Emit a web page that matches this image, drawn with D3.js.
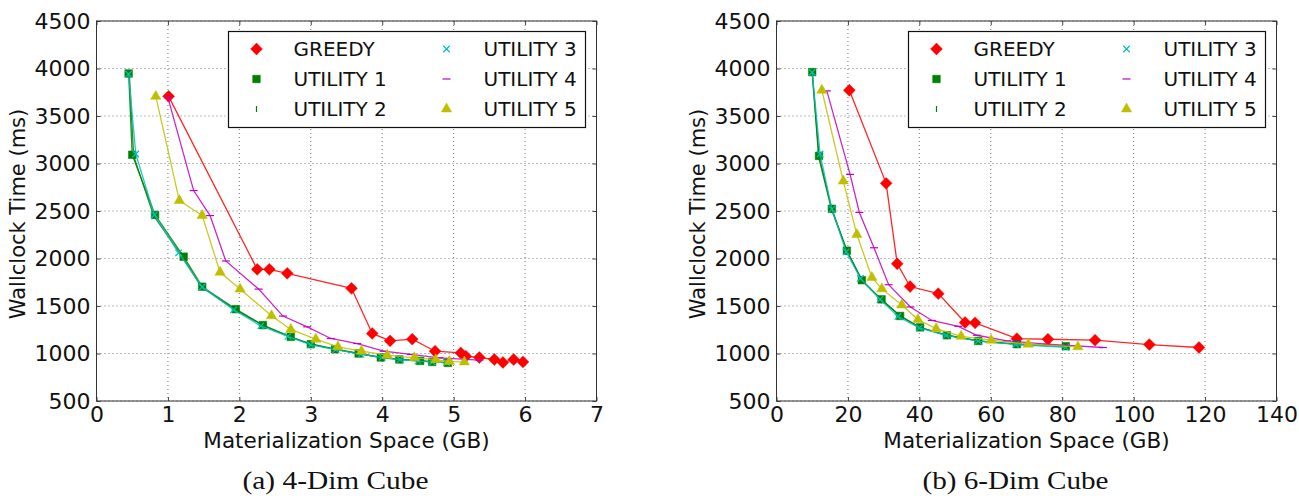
<!DOCTYPE html>
<html>
<head>
<meta charset="utf-8">
<script src="https://cdn.jsdelivr.net/npm/d3@7"></script>
<style>
  body { margin: 0; background: #fff; }
  text { font-family: "DejaVu Sans", sans-serif; fill: #111; }
</style>
</head>
<body>
<div id="chart"></div>
<script>
// series names / colours
const seriesNames = ["GREEDY", "UTILITY 1", "UTILITY 2", "UTILITY 3", "UTILITY 4", "UTILITY 5"];
const seriesColors = ["#ff0000", "#008000", "#008000", "#00bfbf", "#bf00bf", "#bfbf00"];

// tick labels
const yTicks = [500, 1000, 1500, 2000, 2500, 3000, 3500, 4000, 4500];
const xTicks4 = [0, 1, 2, 3, 4, 5, 6, 7];
const xTicks6 = [0, 20, 40, 60, 80, 100, 120, 140];

// (a) 4-Dim cube, x = GB, y = ms
const c4_greedy_x = [1.01, 2.25, 2.42, 2.67, 3.57, 3.86, 4.11, 4.42, 4.74, 5.10, 5.17, 5.36, 5.57, 5.69, 5.84, 5.97];
const c4_greedy_y = [3707, 1886, 1886, 1844, 1686, 1211, 1133, 1151, 1024, 1006, 971, 958, 937, 905, 937, 911];
const c4_u1_x = [0.45, 0.50, 0.82, 1.22, 1.48, 1.95, 2.33, 2.72, 3.00, 3.34, 3.67, 3.98, 4.24, 4.53, 4.70, 4.92];
const c4_u1_y = [3947, 3092, 2459, 2019, 1703, 1467, 1299, 1175, 1098, 1045, 1000, 958, 937, 922, 911, 901];
const c4_u2_x = [0.46, 0.52, 0.80, 1.18, 1.47, 1.93, 2.32, 2.70, 3.00, 3.35, 3.68, 3.98, 4.25, 4.52, 4.70, 4.92];
const c4_u2_y = [3940, 3080, 2450, 2040, 1700, 1465, 1300, 1178, 1100, 1043, 998, 960, 940, 925, 913, 903];
const c4_u3_x = [0.45, 0.55, 0.81, 1.15, 1.48, 1.92, 2.30, 2.68, 3.00, 3.35, 3.70, 4.00, 4.25, 4.50, 4.70, 4.90];
const c4_u3_y = [3940, 3100, 2460, 2060, 1700, 1460, 1290, 1180, 1090, 1040, 990, 960, 935, 920, 910, 905];
const c4_u4_x = [1.00, 1.36, 1.59, 1.81, 2.27, 2.61, 2.95, 3.28, 3.65, 4.02, 4.40, 4.80, 5.36];
const c4_u4_y = [3693, 2715, 2452, 1974, 1678, 1394, 1281, 1158, 1105, 1024, 990, 955, 930];
const c4_u5_x = [0.83, 1.16, 1.48, 1.73, 2.01, 2.45, 2.72, 3.07, 3.38, 3.71, 4.07, 4.45, 4.75, 4.94, 5.15];
const c4_u5_y = [3707, 2610, 2452, 1855, 1678, 1397, 1253, 1151, 1070, 1024, 982, 955, 935, 915, 911];

// (b) 6-Dim cube
const c6_greedy_x = [20.4, 30.7, 33.8, 37.4, 45.3, 52.8, 55.6, 67.3, 76.0, 89.2, 104.4, 118.3];
const c6_greedy_y = [3771, 2791, 1945, 1705, 1630, 1326, 1323, 1156, 1150, 1140, 1094, 1063];
const c6_u1_x = [10.0, 11.9, 15.5, 19.7, 23.9, 29.4, 34.6, 40.2, 47.7, 56.5, 67.3, 81.0];
const c6_u1_y = [3962, 3080, 2523, 2082, 1772, 1570, 1395, 1275, 1192, 1132, 1098, 1077];
const c6_u2_x = [10.0, 11.8, 15.4, 19.8, 24.0, 29.4, 34.7, 40.3, 48.0, 57.0, 67.5, 81.2];
const c6_u2_y = [3960, 3070, 2515, 2075, 1765, 1560, 1395, 1270, 1190, 1130, 1095, 1072];
const c6_u3_x = [10.0, 12.2, 15.5, 19.5, 23.5, 29.0, 34.0, 40.0, 47.5, 56.5, 67.0, 81.0];
const c6_u3_y = [3960, 3100, 2520, 2070, 1790, 1570, 1390, 1270, 1190, 1130, 1095, 1065];
const c6_u4_x = [14.1, 20.6, 23.2, 27.3, 31.4, 37.5, 43.5, 50.9, 56.1, 64.5, 75.7, 91.4];
const c6_u4_y = [3764, 2885, 2485, 2113, 1724, 1490, 1348, 1286, 1192, 1132, 1098, 1063];
const c6_u5_x = [12.7, 18.7, 22.5, 26.7, 29.5, 35.1, 39.6, 44.7, 51.7, 60.1, 70.5, 84.4];
const c6_u5_y = [3771, 2815, 2252, 1800, 1680, 1511, 1357, 1261, 1181, 1140, 1098, 1070];

const zip = (xs, ys) => xs.map((x, i) => ({x: x, y: ys[i]}));

const cube4 = [
  zip(c4_greedy_x, c4_greedy_y), zip(c4_u1_x, c4_u1_y), zip(c4_u2_x, c4_u2_y),
  zip(c4_u3_x, c4_u3_y), zip(c4_u4_x, c4_u4_y), zip(c4_u5_x, c4_u5_y)
];
const cube6 = [
  zip(c6_greedy_x, c6_greedy_y), zip(c6_u1_x, c6_u1_y), zip(c6_u2_x, c6_u2_y),
  zip(c6_u3_x, c6_u3_y), zip(c6_u4_x, c6_u4_y), zip(c6_u5_x, c6_u5_y)
];

// matplotlib-like markers
const diamond = { draw(ctx, size) { const r = Math.sqrt(size / 2); ctx.moveTo(0, -r); ctx.lineTo(r, 0); ctx.lineTo(0, r); ctx.lineTo(-r, 0); ctx.closePath(); } };
const vbar = { draw(ctx, size) { const r = Math.sqrt(size) / 2; ctx.moveTo(0, -r); ctx.lineTo(0, r); } };
const hbar = { draw(ctx, size) { const r = Math.sqrt(size) / 2; ctx.moveTo(-r, 0); ctx.lineTo(r, 0); } };
const xmark = { draw(ctx, size) { const r = Math.sqrt(size) / 2; ctx.moveTo(-r, -r); ctx.lineTo(r, r); ctx.moveTo(-r, r); ctx.lineTo(r, -r); } };

const markers = [
  {type: diamond, size: 70, filled: true},
  {type: d3.symbolSquare, size: 58, filled: true},
  {type: vbar, size: 36, filled: false},
  {type: xmark, size: 42, filled: false},
  {type: hbar, size: 64, filled: false},
  {type: d3.symbolTriangle, size: 46, filled: true}
];

const W = 1299, H = 496;
const plotW = 500, plotH = 380, plotTop = 21;

const svg = d3.select("#chart").append("svg")
  .attr("width", W).attr("height", H);

function drawPanel(left, data, xMax, xTicks, caption) {
  const x = d3.scaleLinear().domain([0, xMax]).range([0, plotW]);
  const y = d3.scaleLinear().domain([500, 4500]).range([plotH, 0]);

  const g = svg.append("g").attr("transform", `translate(${left},${plotTop})`);

  // dotted grid
  g.append("g").selectAll("line").data(xTicks).join("line")
    .attr("x1", d => x(d)).attr("x2", d => x(d))
    .attr("y1", 0).attr("y2", plotH)
    .attr("stroke", "#777").attr("stroke-width", 1).attr("stroke-dasharray", "1,3");
  g.append("g").selectAll("line").data(yTicks).join("line")
    .attr("x1", 0).attr("x2", plotW)
    .attr("y1", d => y(d)).attr("y2", d => y(d))
    .attr("stroke", "#777").attr("stroke-width", 1).attr("stroke-dasharray", "1,3");

  // axes, ticks pointing inwards on every side
  const styleAxis = a => {
    a.select(".domain").remove();
    a.selectAll(".tick line").attr("stroke", "#444");
    a.selectAll(".tick text").attr("font-size", "22px").attr("fill", "#111")
      .attr("font-family", "DejaVu Sans, sans-serif");
  };
  const fmt = d3.format("d");
  g.append("g").attr("transform", `translate(0,${plotH})`)
    .call(d3.axisBottom(x).tickValues(xTicks).tickFormat(fmt).tickSizeInner(-4).tickSizeOuter(0).tickPadding(5))
    .call(styleAxis);
  g.append("g")
    .call(d3.axisTop(x).tickValues(xTicks).tickSizeInner(-4).tickSizeOuter(0).tickFormat(""))
    .call(styleAxis);
  g.append("g")
    .call(d3.axisLeft(y).tickValues(yTicks).tickFormat(fmt).tickSizeInner(-4).tickSizeOuter(0).tickPadding(6))
    .call(styleAxis);
  g.append("g").attr("transform", `translate(${plotW},0)`)
    .call(d3.axisRight(y).tickValues(yTicks).tickSizeInner(-4).tickSizeOuter(0).tickFormat(""))
    .call(styleAxis);

  // lines and markers
  const line = d3.line().x(d => x(d.x)).y(d => y(d.y));
  data.forEach((pts, i) => {
    const col = seriesColors[i];
    const m = markers[i];
    g.append("path").datum(pts)
      .attr("d", line).attr("fill", "none")
      .attr("stroke", col).attr("stroke-width", 1.3).attr("stroke-opacity", 0.85);
    g.append("g").selectAll("path").data(pts).join("path")
      .attr("transform", d => `translate(${x(d.x)},${y(d.y)})`)
      .attr("d", d3.symbol().type(m.type).size(m.size))
      .attr("fill", m.filled ? col : "none")
      .attr("stroke", col).attr("stroke-width", m.filled ? 0.5 : 1.2);
  });

  // frame
  g.append("rect").attr("width", plotW).attr("height", plotH)
    .attr("fill", "none").attr("stroke", "#333").attr("stroke-width", 1);

  // legend
  const lgW = 357, lgH = 96;
  const lg = g.append("g").attr("transform", `translate(${plotW - 11 - lgW},10.5)`);
  lg.append("rect").attr("width", lgW).attr("height", lgH)
    .attr("fill", "#fff").attr("stroke", "#111").attr("stroke-width", 1.2);
  const items = lg.selectAll("g").data(seriesNames).join("g")
    .attr("transform", (d, i) => `translate(${i < 3 ? 0 : 190},${17.5 + (i % 3) * 30})`);
  items.append("path")
    .attr("transform", "translate(28,0)")
    .attr("d", (d, i) => d3.symbol().type(markers[i].type).size(markers[i].size)())
    .attr("fill", (d, i) => markers[i].filled ? seriesColors[i] : "none")
    .attr("stroke", (d, i) => seriesColors[i])
    .attr("stroke-width", (d, i) => markers[i].filled ? 0.5 : 1.2);
  items.append("text")
    .attr("x", 65).attr("dy", "0.36em")
    .attr("font-size", "20px")
    .text(d => d);

  // axis titles
  g.append("text")
    .attr("x", plotW / 2).attr("y", plotH + 47)
    .attr("text-anchor", "middle").attr("font-size", "21.5px")
    .text("Materialization Space (GB)");
  g.append("text")
    .attr("transform", `translate(-72,${plotH / 2 + 3}) rotate(-90)`)
    .attr("text-anchor", "middle").attr("font-size", "21px")
    .text("Wallclock Time (ms)");

  // sub caption
  svg.append("text")
    .attr("x", left + plotW / 2 - 11).attr("y", 489)
    .attr("text-anchor", "middle")
    .attr("textLength", 186).attr("lengthAdjust", "spacingAndGlyphs")
    .style("font-family", "'Liberation Serif', 'Times New Roman', serif")
    .attr("font-size", "26px")
    .text(caption);
}

drawPanel(96.5, cube4, 7, xTicks4, "(a) 4-Dim Cube");
drawPanel(776.5, cube6, 140, xTicks6, "(b) 6-Dim Cube");
</script>
</body>
</html>
